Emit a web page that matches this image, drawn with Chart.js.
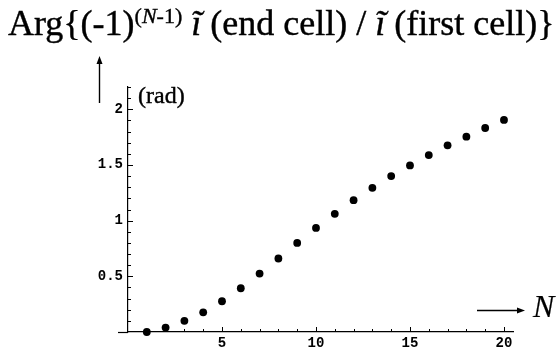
<!DOCTYPE html>
<html>
<head>
<meta charset="utf-8">
<script src="https://cdn.jsdelivr.net/npm/chart.js@4/dist/chart.umd.min.js"></script>
<style>
  body { margin: 0; background: #fff; }
  #wrap { position: relative; width: 558px; height: 351px; overflow: hidden; }
  .txt { position: absolute; white-space: nowrap; font-family: 'Liberation Serif', 'Times New Roman', serif; color: #000; line-height: 1; -webkit-text-stroke: 0.4px #000; }
  #title { left: 8px; top: 5px; font-size: 36px; }
  #title sup { font-size: 22px; position: relative; top: -12px; vertical-align: baseline; }
  #rad { left: 138px; top: 83px; font-size: 24px; }
  #nlab { left: 533px; top: 290px; font-size: 32px; font-style: italic; -webkit-text-stroke: 0.2px #000; }
</style>
</head>
<body>
<div id="wrap">
  <canvas id="chart" width="558" height="351"></canvas>
  <div class="txt" id="title">Arg{(-1)<sup>(<i>N</i>-1)</sup> <i>ĩ</i> (end cell) / <i>ĩ</i> (first cell)}</div>
  <div class="txt" id="rad">(rad)</div>
  <div class="txt" id="nlab">N</div>
</div>
<script>
// N = number of cells, phase in radians
const cellCounts = [1, 2, 3, 4, 5, 6, 7, 8, 9, 10, 11, 12, 13, 14, 15, 16, 17, 18, 19, 20];
const phaseValues = [0.00, 0.04, 0.10, 0.177, 0.276, 0.393, 0.525, 0.66, 0.80, 0.935,
                     1.061, 1.184, 1.295, 1.40, 1.496, 1.589, 1.676, 1.754, 1.832, 1.904];
const xTickLabels = [5, 10, 15, 20];
const yTickLabels = [0.5, 1, 1.5, 2];

const points = cellCounts.map((n, i) => ({ x: n, y: phaseValues[i] }));

// little inward tick marks, the stub of x axis left of origin, and the two arrows
const axisDecor = {
  id: 'axisDecor',
  afterDraw(chart) {
    const ctx = chart.ctx;
    const xs = chart.scales.x, ys = chart.scales.y;
    const x0 = xs.getPixelForValue(0);
    const y0 = ys.getPixelForValue(0);
    ctx.save();
    ctx.strokeStyle = '#000';
    ctx.lineWidth = 1.2;
    ctx.beginPath();
    ctx.moveTo(x0 - 10, Math.round(y0) + 0.5);
    ctx.lineTo(x0, Math.round(y0) + 0.5);
    ctx.stroke();

    ctx.lineWidth = 1;
    ctx.beginPath();
    for (let k = 1; k <= 22; k++) {
      const py = Math.round(ys.getPixelForValue(k / 10)) + 0.5;
      const len = k % 5 === 0 ? 5 : 3;
      ctx.moveTo(x0, py);
      ctx.lineTo(x0 + len, py);
    }
    for (let n = 1; n <= 20; n++) {
      const px = Math.round(xs.getPixelForValue(n)) + 0.5;
      const len = n % 5 === 0 ? 5 : 3;
      ctx.moveTo(px, y0);
      ctx.lineTo(px, y0 - len);
    }
    ctx.stroke();

    // up arrow
    ctx.lineWidth = 1.4;
    ctx.beginPath();
    ctx.moveTo(99.5, 103);
    ctx.lineTo(99.5, 62);
    ctx.stroke();
    ctx.fillStyle = '#000';
    ctx.beginPath();
    ctx.moveTo(99.5, 56);
    ctx.lineTo(96.5, 64);
    ctx.lineTo(102.5, 64);
    ctx.closePath();
    ctx.fill();

    // right arrow
    ctx.beginPath();
    ctx.moveTo(477, 310.5);
    ctx.lineTo(518, 310.5);
    ctx.stroke();
    ctx.beginPath();
    ctx.moveTo(525, 310.5);
    ctx.lineTo(517, 307.5);
    ctx.lineTo(517, 313.5);
    ctx.closePath();
    ctx.fill();
    ctx.restore();
  }
};

const tickFont = { family: "'Liberation Mono', 'Courier New', monospace", size: 14, weight: 'bold' };

new Chart(document.getElementById('chart'), {
  type: 'scatter',
  data: {
    datasets: [{
      data: points,
      backgroundColor: '#000',
      borderWidth: 0,
      pointRadius: 3.9,
      pointHoverRadius: 3.9,
      clip: false
    }]
  },
  options: {
    responsive: false,
    animation: false,
    devicePixelRatio: 1,
    layout: { padding: { left: 0, right: 45, top: 87, bottom: 0 } },
    plugins: { legend: { display: false }, tooltip: { enabled: false } },
    scales: {
      x: {
        type: 'linear',
        position: 'bottom',
        min: 0,
        max: 20.48,
        afterBuildTicks: s => { s.ticks = xTickLabels.map(v => ({ value: v })); },
        afterFit: s => { s.height = 19; },
        grid: { display: false, drawTicks: false },
        border: { display: true, color: '#000', width: 1.2 },
        ticks: { color: '#000', font: tickFont, padding: 3, maxRotation: 0, callback: v => String(v) }
      },
      y: {
        type: 'linear',
        position: 'left',
        min: 0,
        max: 2.2,
        afterBuildTicks: s => { s.ticks = yTickLabels.map(v => ({ value: v })); },
        afterFit: s => { s.width = 128; },
        grid: { display: false, drawTicks: false },
        border: { display: true, color: '#000', width: 1.2 },
        ticks: { color: '#000', font: tickFont, padding: 5, callback: v => String(v) }
      }
    }
  },
  plugins: [axisDecor]
});
</script>
</body>
</html>
